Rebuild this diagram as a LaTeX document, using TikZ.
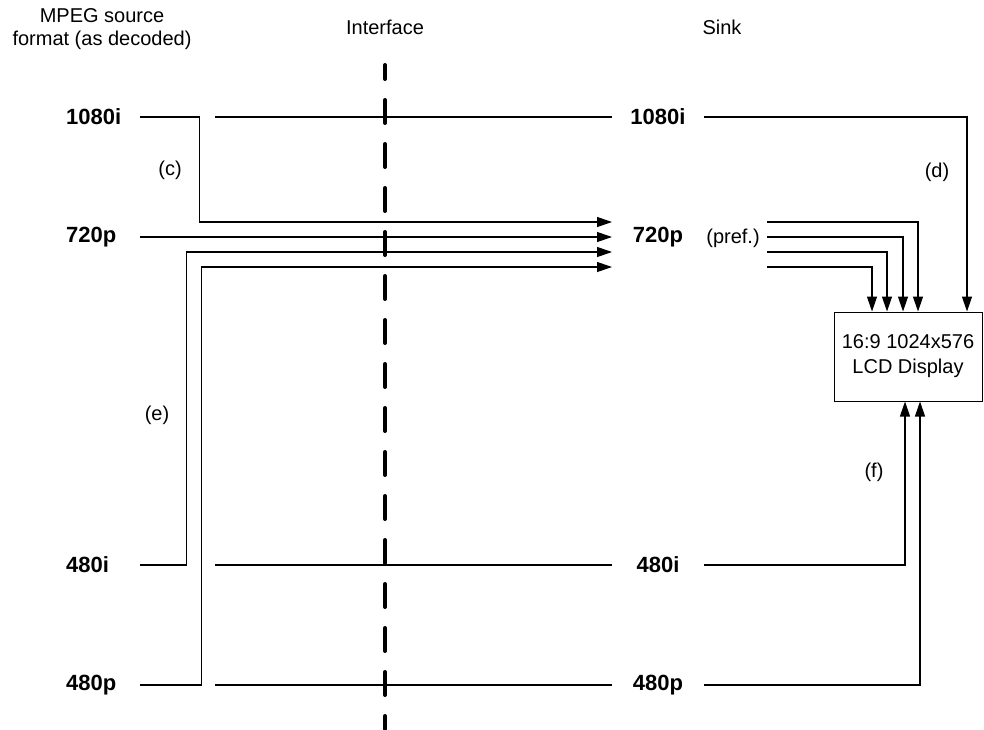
\documentclass[tikz,border=0pt]{standalone}
\usepackage{fontspec}
\setmainfont{Liberation Sans}
\usepackage{tikz}
\usetikzlibrary{arrows.meta,positioning}

\begin{document}
\begin{tikzpicture}[x=1pt, y=-1pt,
  every node/.style={font=\fontsize{20}{23}\selectfont},
  fmt/.style={font=\fontsize{22}{26}\selectfont\bfseries},
  srcfmt/.style={fmt, anchor=west, text width=67pt, align=left, inner xsep=7pt},
  sinkfmt/.style={fmt, minimum width=92pt, inner xsep=0pt},
  wire/.style={line width=1.2pt},
  arr/.style={wire, -{Triangle[length=15pt,width=10pt]}}]
\useasboundingbox (0,0) rectangle (984,729);

% column titles
\node[align=center] (srctitle) at (102,29) {MPEG source\\format (as decoded)};
\node (iftitle) at (385,27) {Interface};
\node (sinktitle) at (722,27) {Sink};

% interface
\coordinate (iftop) at (385,65);
\coordinate (ifbot) at (385,729);
\draw[line width=4pt, line cap=round, dash pattern=on 23pt off 21pt, dash phase=9pt] (iftop) -- (ifbot);

% source formats
\node[srcfmt] (s1080) at (59,117) {1080i};
\node[srcfmt] (s720) at (59,237) {720p};
\node[srcfmt] (s480i) at (59,565) {480i};
\node[srcfmt] (s480p) at (59,685) {480p};

% sink formats
\node[sinkfmt] (d1080) at (658,117) {1080i};
\node[sinkfmt] (d720) at (658,237) {720p};
\node (pref) at (733,238) {(pref.)};
\node[sinkfmt] (d480i) at (658,565) {480i};
\node[sinkfmt] (d480p) at (658,685) {480p};

% display
\node[draw, line width=1pt, minimum width=148pt, minimum height=89pt, align=center,
      font=\fontsize{20}{25}\selectfont] (lcd) at (908,356.5) {16:9 1024x576\\LCD Display};

% case labels
\node (cc) at (170,170) {(c)};
\node (cd) at (937,172) {(d)};
\node (ce) at (157,415) {(e)};
\node (cf) at (874,472) {(f)};

% arrow ends at the sink
\coordinate (t1) at (612,222);
\coordinate (t2) at (612,237);
\coordinate (t3) at (612,252);
\coordinate (t4) at (612,267);
\coordinate (p1) at (767,222);
\coordinate (p2) at (767,237);
\coordinate (p3) at (767,252);
\coordinate (p4) at (767,267);
\coordinate (f1080) at (215,117);
\coordinate (f480i) at (215,565);
\coordinate (f480p) at (215,685);

% source to sink
\draw[arr] (s1080.east) -- ++(59,0) |- (t1);
\draw[arr] (s720.east) -- (t2);
\draw[arr] (s480i.east) -- ++(46,0) |- (t3);
\draw[arr] (s480p.east) -- ++(61,0) |- (t4);

\draw[wire] (f1080) -- (d1080.west);
\draw[wire] (f480i) -- (d480i.west);
\draw[wire] (f480p) -- (d480p.west);

% sink to display
\draw[arr] (d1080.east) -| ([xshift=59pt]lcd.north);
\draw[arr] (p1) -| ([xshift=10pt]lcd.north);
\draw[arr] (p2) -| ([xshift=-5pt]lcd.north);
\draw[arr] (p3) -| ([xshift=-21pt]lcd.north);
\draw[arr] (p4) -| ([xshift=-36pt]lcd.north);
\draw[arr] (d480i.east) -| ([xshift=-3pt]lcd.south);
\draw[arr] (d480p.east) -| ([xshift=12pt]lcd.south);
\end{tikzpicture}
\end{document}
